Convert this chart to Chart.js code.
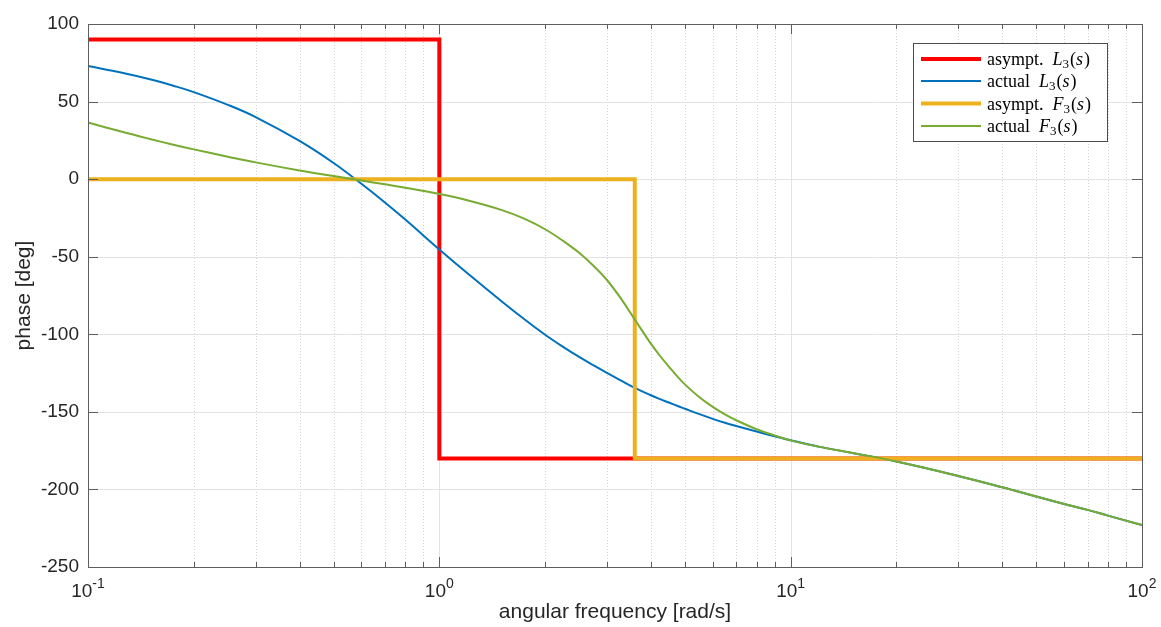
<!DOCTYPE html>
<html>
<head>
<meta charset="utf-8">
<script src="https://cdn.jsdelivr.net/npm/chart.js@4.4.0/dist/chart.umd.min.js"></script>
<style>
  html, body { margin: 0; padding: 0; background: #fff; }
  #wrap { width: 1161px; height: 627px; position: relative; }
</style>
</head>
<body>
<div id="wrap"><canvas id="c"></canvas></div>
<script>
const freq = [0.1, 0.125, 0.15, 0.175, 0.2, 0.25, 0.3, 0.4, 0.5, 0.6, 0.7, 0.8, 1, 1.2, 1.5, 1.75, 2, 2.25, 2.5, 2.75, 3, 3.3, 3.6, 4, 4.25, 4.5, 4.75, 5, 5.5, 6, 6.5, 7, 8, 9, 10, 12, 15, 20, 30, 40, 50, 60, 70, 80, 100];
const actualL3 = [72.9, 68.6, 64.4, 60.2, 56.1, 47.9, 40.0, 24.6, 10.4, -3.0, -15.0, -26.0, -45.3, -60.5, -78.5, -90.5, -100.3, -108.1, -114.6, -120.1, -124.9, -130.0, -134.5, -139.3, -141.8, -144.0, -146.1, -148.0, -151.5, -154.5, -157.0, -159.1, -162.7, -165.7, -168.3, -172.4, -176.5, -182.0, -191.3, -198.6, -204.6, -209.4, -213.2, -216.9, -223.0];
const actualF3 = [36.5, 30.5, 25.9, 22.2, 19.2, 14.5, 10.8, 5.6, 2.0, -0.9, -3.3, -5.5, -9.6, -13.6, -19.8, -25.6, -32.3, -39.8, -47.5, -56.0, -65.0, -77.5, -90.5, -106.0, -114.0, -120.8, -127.0, -132.3, -140.6, -146.8, -151.6, -155.4, -161.2, -165.2, -168.4, -172.4, -176.5, -182.0, -191.3, -198.6, -204.6, -209.4, -213.2, -216.9, -223.0];

// asymptotes
const asymL3w = [0.1, 1, 1, 100];
const asymL3p = [90, 90, -180, -180];
const asymF3w = [0.1, 3.6, 3.6, 100];
const asymF3p = [0, 0, -180, -180];

const yTicks = [-250, -200, -150, -100, -50, 0, 50, 100];
const xDecades = [0.1, 1, 10, 100];
const xExponents = ['-1', '0', '1', '2'];

const colors = { red: '#ff0000', blue: '#0072bd', orange: '#edb120', green: '#77ac30' };
const legendItems = [
  { pre: 'asympt.', sym: 'L', color: colors.red, width: 4 },
  { pre: 'actual', sym: 'L', color: colors.blue, width: 2 },
  { pre: 'asympt.', sym: 'F', color: colors.orange, width: 4 },
  { pre: 'actual', sym: 'F', color: colors.green, width: 2 }
];

const pts = (xs, ys) => xs.map((x, i) => ({ x: x, y: ys[i] }));
const SANS = '"Liberation Sans", Arial, Helvetica, sans-serif';
const SERIF = '"Liberation Serif", "Times New Roman", serif';
const AXIS = '#5e5e5e';
const TEXT = '#262626';

const frame = {
  id: 'frame',
  beforeDatasetsDraw(chart) {
    const { ctx, chartArea: a, scales: { x, y } } = chart;
    ctx.save();
    ctx.lineWidth = 1;
    // minor x grid, dotted
    ctx.strokeStyle = '#d4d4d4';
    ctx.setLineDash([1, 2]);
    for (const d of xDecades.slice(0, 3)) {
      for (let k = 2; k <= 9; k++) {
        const px = Math.round(x.getPixelForValue(d * k)) + 0.5;
        ctx.beginPath(); ctx.moveTo(px, a.top); ctx.lineTo(px, a.bottom); ctx.stroke();
      }
    }
    ctx.setLineDash([]);
    ctx.strokeStyle = '#e3e3e3';
    for (const d of xDecades.slice(1, 3)) {
      const px = Math.round(x.getPixelForValue(d)) + 0.5;
      ctx.beginPath(); ctx.moveTo(px, a.top); ctx.lineTo(px, a.bottom); ctx.stroke();
    }
    for (const v of yTicks.slice(1, -1)) {
      const py = Math.round(y.getPixelForValue(v)) + 0.5;
      ctx.beginPath(); ctx.moveTo(a.left, py); ctx.lineTo(a.right, py); ctx.stroke();
    }
    ctx.restore();
  },
  afterDatasetsDraw(chart) {
    const { ctx, chartArea: a, scales: { x, y } } = chart;
    ctx.save();
    ctx.strokeStyle = AXIS;
    ctx.lineWidth = 1;
    ctx.strokeRect(Math.round(a.left) + 0.5, Math.round(a.top) + 0.5, Math.round(a.right - a.left), Math.round(a.bottom - a.top));
    ctx.beginPath();
    // x ticks, top and bottom, pointing in
    for (const d of xDecades) {
      for (let k = 1; k <= 9; k++) {
        const v = d * k;
        if (v > 100) break;
        const len = k === 1 ? 10 : 5;
        const px = Math.round(x.getPixelForValue(v)) + 0.5;
        ctx.moveTo(px, a.bottom); ctx.lineTo(px, a.bottom - len);
        ctx.moveTo(px, a.top); ctx.lineTo(px, a.top + len);
      }
    }
    for (const v of yTicks) {
      const py = Math.round(y.getPixelForValue(v)) + 0.5;
      ctx.moveTo(a.left, py); ctx.lineTo(a.left + 10, py);
      ctx.moveTo(a.right, py); ctx.lineTo(a.right - 10, py);
    }
    ctx.stroke();

    // x tick labels 10^n
    ctx.fillStyle = TEXT;
    ctx.textBaseline = 'alphabetic';
    ctx.textAlign = 'left';
    xDecades.forEach((d, i) => {
      const px = x.getPixelForValue(d);
      ctx.font = '19px ' + SANS;
      const wBase = ctx.measureText('10').width;
      ctx.font = '14px ' + SANS;
      const wExp = ctx.measureText(xExponents[i]).width;
      const x0 = px - (wBase + wExp) / 2;
      ctx.font = '19px ' + SANS;
      ctx.fillText('10', x0, 597);
      ctx.font = '14px ' + SANS;
      ctx.fillText(xExponents[i], x0 + wBase, 588);
    });
    ctx.restore();
  },
  afterDraw(chart) {
    const { ctx } = chart;
    const box = { left: 913, top: 43, right: 1107, bottom: 141 };
    ctx.save();
    ctx.fillStyle = '#fff';
    ctx.fillRect(box.left, box.top, box.right - box.left, box.bottom - box.top);
    ctx.strokeStyle = '#4d4d4d';
    ctx.lineWidth = 1;
    ctx.strokeRect(box.left + 0.5, box.top + 0.5, box.right - box.left, box.bottom - box.top);
    const rows = [59, 81, 103.5, 126];
    legendItems.forEach((it, i) => {
      const yy = rows[i];
      ctx.strokeStyle = it.color;
      ctx.lineWidth = it.width;
      ctx.beginPath(); ctx.moveTo(921, yy); ctx.lineTo(981, yy); ctx.stroke();
      ctx.fillStyle = '#000';
      ctx.textBaseline = 'alphabetic';
      ctx.textAlign = 'left';
      const base = yy + 6;
      let cx = 987;
      ctx.font = '18px ' + SERIF;
      ctx.fillText(it.pre, cx, base); cx += ctx.measureText(it.pre).width + 9;
      ctx.font = 'italic 18px ' + SERIF;
      ctx.fillText(it.sym, cx, base); cx += ctx.measureText(it.sym).width;
      ctx.font = '13px ' + SERIF;
      ctx.fillText('3', cx, base + 3); cx += ctx.measureText('3').width + 1;
      ctx.font = '18px ' + SERIF;
      ctx.fillText('(', cx, base); cx += ctx.measureText('(').width;
      ctx.font = 'italic 18px ' + SERIF;
      ctx.fillText('s', cx, base); cx += ctx.measureText('s').width + 1;
      ctx.font = '18px ' + SERIF;
      ctx.fillText(')', cx, base);
    });
    ctx.restore();
  }
};

new Chart(document.getElementById('c'), {
  type: 'line',
  data: {
    datasets: [
      { label: 'asympt. L3(s)', data: pts(asymL3w, asymL3p), borderColor: colors.red, borderWidth: 4, order: 3, tension: 0 },
      { label: 'actual L3(s)', data: pts(freq, actualL3), borderColor: colors.blue, borderWidth: 2, order: 2, tension: 0.4 },
      { label: 'asympt. F3(s)', data: pts(asymF3w, asymF3p), borderColor: colors.orange, borderWidth: 4, order: 1, tension: 0 },
      { label: 'actual F3(s)', data: pts(freq, actualF3), borderColor: colors.green, borderWidth: 2, order: 0, tension: 0.4 }
    ].map(ds => Object.assign({ pointRadius: 0, pointHoverRadius: 0, fill: false, borderJoinStyle: 'miter', borderCapStyle: 'butt' }, ds))
  },
  options: {
    responsive: true,
    maintainAspectRatio: false,
    animation: false,
    events: [],
    layout: { padding: { top: 24, right: 19, left: 0, bottom: 0 } },
    plugins: { legend: { display: false }, tooltip: { enabled: false } },
    scales: {
      x: {
        type: 'logarithmic',
        min: 0.1,
        max: 100,
        grid: { display: false, drawTicks: false },
        border: { display: false },
        ticks: { display: false },
        title: { display: true, text: 'angular frequency [rad/s]', color: TEXT, font: { family: SANS, size: 21 }, padding: { top: 0, bottom: 2 } },
        afterFit: s => { s.height = 60; }
      },
      y: {
        type: 'linear',
        min: -250,
        max: 100,
        grid: { display: false, drawTicks: false },
        border: { display: false },
        ticks: { stepSize: 50, autoSkip: false, padding: 9, color: TEXT, font: { family: SANS, size: 19 }, callback: v => String(v) },
        title: { display: true, text: 'phase [deg]', color: TEXT, font: { family: SANS, size: 21 }, padding: { top: 12, bottom: 0 } },
        afterFit: s => { s.width = 88; }
      }
    }
  },
  plugins: [frame]
});
</script>
</body>
</html>
